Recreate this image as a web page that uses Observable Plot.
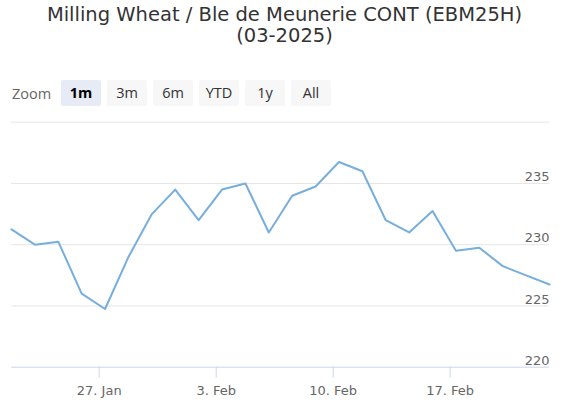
<!DOCTYPE html>
<html>
<head>
<meta charset="utf-8">
<script src="https://cdn.jsdelivr.net/npm/d3@7"></script>
<script src="https://cdn.jsdelivr.net/npm/@observablehq/plot@0.6"></script>
<style>
  html, body { margin: 0; padding: 0; background: #fff; }
  #wrap { position: relative; width: 569px; height: 403px; overflow: hidden; }
  #title {
    position: absolute; left: 0; top: 4px; width: 569px;
    text-align: center; font-family: "DejaVu Sans", sans-serif;
    font-size: 19.5px; line-height: 21px; color: #333;
  }
  #range {
    position: absolute; left: 12px; top: 80px; height: 26px;
    display: flex; align-items: center; gap: 6px;
    font-family: "Open Sans", sans-serif; font-size: 14.5px;
  }
  #range .lbl { color: #666; margin-right: 2px; width: 41px; }
  #range .btn {
    width: 40px; height: 26px; line-height: 26px; text-align: center;
    background: #f7f7f7; color: #333; border-radius: 2px;
  }
  #range .btn.on { background: #e6ebf5; font-weight: 700; color: #000; }
  #chart { position: absolute; left: 0; top: 110px; }
</style>
</head>
<body>
<div id="wrap">
  <div id="title"></div>
  <div id="range"></div>
  <div id="chart"></div>
</div>
<script>
// Chart heading
const titleLines = ["Milling Wheat / Ble de Meunerie CONT (EBM25H)", "(03-2025)"];

// Range selector buttons
const zoomLabel = "Zoom";
const zoomButtons = ["1m", "3m", "6m", "YTD", "1y", "All"];
const activeButton = "1m";

// Settlement prices, one per trading session (21 Jan – 21 Feb)
const prices = [
  231.25, 230.0, 230.25, 226.0,
  224.75, 229.0, 232.5, 234.5, 232.0,
  234.5, 235.0, 231.0, 234.0, 234.75,
  236.75, 236.0, 232.0, 231.0, 232.75,
  229.5, 229.75, 228.25, 227.5, 226.75
];

// Week ticks on the session axis (midnight falls between sessions)
const weekTickPos = [3.75, 8.75, 13.75, 18.75];
const weekTickLabels = ["27. Jan", "3. Feb", "10. Feb", "17. Feb"];

// Value axis
const gridValues = [225, 230, 235, 240];
const yLabelValues = [220, 225, 230, 235];
const yMin = 220, yMax = 240;

document.getElementById("title").innerHTML = titleLines.join("<br>");

const range = document.getElementById("range");
const lbl = document.createElement("span");
lbl.className = "lbl";
lbl.textContent = zoomLabel;
range.appendChild(lbl);
for (const b of zoomButtons) {
  const el = document.createElement("div");
  el.className = "btn" + (b === activeButton ? " on" : "");
  el.textContent = b;
  range.appendChild(el);
}

const series = prices.map((p, i) => ({session: i, price: p}));

const chart = Plot.plot({
  width: 569,
  height: 293,
  marginTop: 11.7,
  marginBottom: 36.3,
  marginLeft: 11,
  marginRight: 20,
  style: {fontFamily: "DejaVu Sans, sans-serif", background: "transparent"},
  x: {type: "linear", domain: [0, prices.length - 1]},
  y: {domain: [yMin, yMax]},
  marks: [
    Plot.ruleY(gridValues, {stroke: "#e6e6e6", strokeWidth: 1}),
    Plot.ruleY([yMin], {stroke: "#ccd6eb", strokeWidth: 1}),
    Plot.axisY({
      anchor: "right", ticks: yLabelValues, tickSize: 0, tickPadding: 0,
      textAnchor: "end", dy: -6.5, fontSize: 13, fill: "#666", label: null
    }),
    Plot.axisX({
      ticks: weekTickPos, tickFormat: (d, i) => weekTickLabels[i],
      tickSize: 11, tickPadding: 8, stroke: "#ccd6eb", fontSize: 13,
      fill: "#666", label: null
    }),
    Plot.lineY(series, {
      x: "session", y: "price", stroke: "#76aede", strokeWidth: 2,
      strokeLinejoin: "round", strokeLinecap: "round"
    })
  ]
});
document.getElementById("chart").appendChild(chart);
</script>
</body>
</html>
